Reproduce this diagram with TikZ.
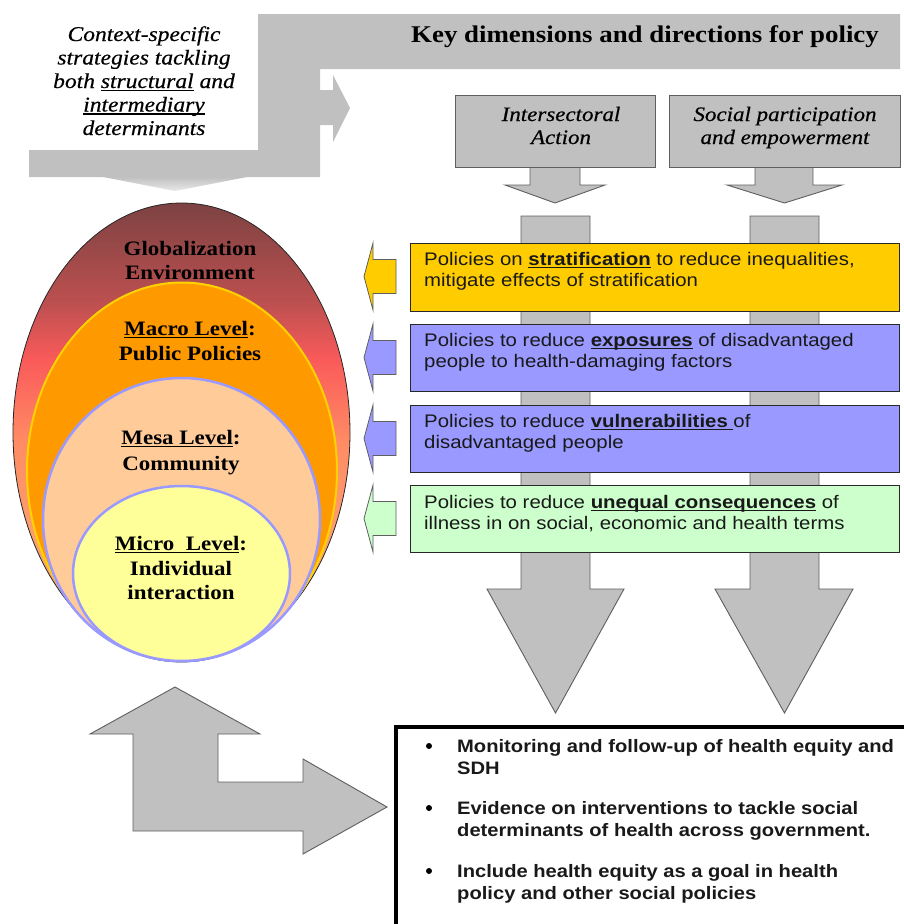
\documentclass[tikz,border=0pt]{standalone}
\usepackage{fontspec}
\setmainfont{Liberation Serif}
\newfontfamily\serifW[FakeStretch=1.12]{Liberation Serif}
\newfontfamily\serifI[FakeStretch=1.12, ItalicFeatures={FakeBold=0.5}]{Liberation Serif}
\newfontfamily\sansW[FakeStretch=1.12]{Liberation Sans}
\usetikzlibrary{shapes.geometric}
\definecolor{gfill}{RGB}{192,192,192}
\definecolor{gline}{RGB}{95,95,95}
\definecolor{polyel}{RGB}{255,204,0}
\definecolor{polblue}{RGB}{153,153,255}
\definecolor{polgreen}{RGB}{204,255,204}
\definecolor{boxline}{RGB}{40,40,40}
\definecolor{ptext}{RGB}{25,25,25}
\definecolor{globtop}{RGB}{125,66,66}
\definecolor{globmid}{RGB}{190,80,80}
\definecolor{globred}{RGB}{250,90,90}
\definecolor{globlow}{RGB}{255,140,100}
\definecolor{globbot}{RGB}{250,170,115}
\definecolor{macro}{RGB}{255,153,0}
\definecolor{macroline}{RGB}{255,210,0}
\definecolor{mesa}{RGB}{255,204,153}
\definecolor{lav}{RGB}{153,153,255}
\definecolor{micro}{RGB}{255,255,153}
\pgfdeclareverticalshading{globsh}{100bp}{color(0bp)=(globbot); color(32bp)=(globbot); color(49bp)=(globlow); color(58bp)=(globred); color(64bp)=(globmid); color(75bp)=(globtop); color(100bp)=(globtop)}
\pgfdeclareverticalshading{fadesh}{100bp}{color(0bp)=(white); color(25bp)=(gfill!35); color(75bp)=(gfill); color(100bp)=(gfill)}
\newcommand\myul[1]{\setbox0=\hbox{#1}\rlap{\rule[-0.16em]{\wd0}{0.08em}}\box0\relax}
\newcommand\polarrow[3]{%
  \draw[smallarrow, fill=#1] (396,{(#2+#3)/2-17}) -- (373,{(#2+#3)/2-17}) -- (373,#2)
    -- (364,{(#2+#3)/2}) -- (373,#3) -- (373,{(#2+#3)/2+17}) -- (396,{(#2+#3)/2+17}) -- cycle;}
\begin{document}
\begin{tikzpicture}[x=1pt,y=-1pt,
  grayshape/.style={fill=gfill, draw=gline, line width=0.9pt, line join=miter},
  smallarrow/.style={draw=gline, line width=0.8pt},
  graybox/.style={rectangle, fill=gfill, draw=gline, line width=0.9pt, inner sep=0pt, anchor=north west},
  polbox/.style={rectangle, draw=boxline, line width=1.2pt, inner sep=0pt, anchor=north west, minimum width=489pt},
  ctxtext/.style={anchor=base, inner sep=0pt, font=\serifI\itshape\fontsize{21}{24}\selectfont},
  headtext/.style={anchor=base, inner sep=0pt, font=\serifW\bfseries\fontsize{24}{28}\selectfont},
  dimtext/.style={anchor=base, inner sep=0pt, font=\serifI\itshape\fontsize{20.5}{24}\selectfont},
  elltext/.style={anchor=base, inner sep=0pt, font=\serifW\bfseries\fontsize{20.5}{24}\selectfont},
  poltext/.style={anchor=base west, inner sep=0pt, text=ptext, font=\sansW\fontsize{18.2}{21}\selectfont},
  bottext/.style={anchor=base west, inner sep=0pt, text=ptext, font=\sansW\bfseries\fontsize{18}{21}\selectfont},
  bullet/.style={circle, fill=black, inner sep=0pt, minimum size=6pt}]
\useasboundingbox (0,0) rectangle (904,924);
\begin{scope}
\clip (0,0) rectangle (904,924);

% ---------- top-left bent arrow and header bar ----------
\fill[gfill] (258,14) -- (900,14) -- (900,69) -- (320,69) -- (320,90) -- (333,90) -- (333,75)
  -- (350,108) -- (333,142) -- (333,125) -- (320,125) -- (320,177) -- (29,177) -- (29,150)
  -- (258,150) -- cycle;
\shade[shading=fadesh] (103,177) -- (247,177) -- (175,191) -- cycle;
\node[headtext] (head) at (645,42) {Key dimensions and directions for policy};

\node[ctxtext] (c1) at (144,41) {Context-specific};
\node[ctxtext] (c2) at (144,64.5) {strategies tackling};
\node[ctxtext] (c3) at (144,88) {both \myul{structural} and};
\node[ctxtext] (c4) at (144,111.5) {\myul{intermediary}};
\node[ctxtext] (c5) at (144,135) {determinants};

% ---------- dimension boxes ----------
\draw[grayshape] (530,166) -- (580,166) -- (580,185) -- (605,185) -- (555,203) -- (505,185) -- (530,185) -- cycle;
\draw[grayshape] (755,166) -- (813,166) -- (813,185) -- (842,185) -- (784.5,203) -- (727,185) -- (755,185) -- cycle;
\node[graybox, minimum width=200pt, minimum height=72pt] (ia) at (455,95) {};
\node[graybox, minimum width=231pt, minimum height=72pt] (sp) at (669,95) {};
\node[dimtext] (ia1) at (561,121) {Intersectoral};
\node[dimtext] (ia2) at (561,144) {Action};
\node[dimtext] (sp1) at (785,121) {Social participation};
\node[dimtext] (sp2) at (785,144) {and empowerment};

% ---------- long vertical arrows ----------
\draw[grayshape] (521,216) -- (590,216) -- (590,589) -- (624,589) -- (555.5,713) -- (487,589) -- (521,589) -- cycle;
\draw[grayshape] (750,216) -- (819,216) -- (819,589) -- (853,589) -- (784.5,713) -- (715,589) -- (750,589) -- cycle;

% ---------- policy boxes ----------
\node[polbox, fill=polyel, minimum height=68pt] (p1) at (410,243) {};
\node[polbox, fill=polblue, minimum height=67pt] (p2) at (410,324) {};
\node[polbox, fill=polblue, minimum height=67pt] (p3) at (410,405) {};
\node[polbox, fill=polgreen, minimum height=67pt] (p4) at (410,485) {};

\node[poltext] (p1a) at (424,265.5) {Policies on \textbf{\myul{stratification}} to reduce inequalities,};
\node[poltext] (p1b) at (424,286.5) {mitigate effects of stratification};
\node[poltext] (p2a) at (424,346.5) {Policies to reduce \textbf{\myul{exposures}} of disadvantaged};
\node[poltext] (p2b) at (424,367.5) {people to health-damaging factors};
\node[poltext] (p3a) at (424,427.5) {Policies to reduce \textbf{\myul{vulnerabilities\ }}of};
\node[poltext] (p3b) at (424,448.5) {disadvantaged people};
\node[poltext] (p4a) at (424,508.5) {Policies to reduce \textbf{\myul{unequal consequences}} of};
\node[poltext] (p4b) at (424,529.5) {illness in on social, economic and health terms};

\polarrow{polyel}{243}{310}
\polarrow{polblue}{324}{391}
\polarrow{polblue}{405}{472}
\polarrow{polgreen}{485}{552}

% ---------- nested ellipses ----------
\path[shading=globsh, draw=black!85, line width=0.8pt] (181.5,432.5) ellipse [x radius=168.5, y radius=229.5];
\path[fill=macro, draw=macroline, line width=2pt] (182,471) ellipse [x radius=155, y radius=188.5];
\path[fill=mesa, draw=lav, line width=2.5pt] (181.5,519.5) ellipse [x radius=138.5, y radius=141.5];
\path[fill=micro, draw=lav, line width=2.5pt] (181.5,573.5) ellipse [x radius=108.5, y radius=87.5];

\node[elltext] (g1) at (190,255) {Globalization};
\node[elltext] (g2) at (190,279) {Environment};
\node[elltext] (m1) at (190,335) {\myul{Macro Level}:};
\node[elltext] (m2) at (190,360) {Public Policies};
\node[elltext] (s1) at (181,444) {\myul{Mesa Level}:};
\node[elltext] (s2) at (181,470) {Community};
\node[elltext] (u1) at (181,550) {\myul{Micro\ \ Level}:};
\node[elltext] (u2) at (181,575) {Individual};
\node[elltext] (u3) at (181,599) {interaction};

% ---------- bottom bent arrow ----------
\draw[grayshape] (175,687) -- (260,734) -- (218,734) -- (218,782) -- (303,782) -- (303,759)
  -- (387,807) -- (303,854) -- (303,831) -- (133,831) -- (133,734) -- (90,734) -- cycle;

% ---------- bottom box ----------
\draw[line width=4pt] (396,727) rectangle (930,950);
\node[bullet] (d1) at (429,746) {};
\node[bullet] (d2) at (429,808) {};
\node[bullet] (d3) at (429,871) {};
\node[bottext] (t1a) at (457,752.5) {Monitoring and follow-up of health equity and};
\node[bottext] (t1b) at (457,774.5) {SDH};
\node[bottext] (t2a) at (457,814.5) {Evidence on interventions to tackle social};
\node[bottext] (t2b) at (457,836.5) {determinants of health across government.};
\node[bottext] (t3a) at (457,877.5) {Include health equity as a goal in health};
\node[bottext] (t3b) at (457,899.5) {policy and other social policies};
\end{scope}
\end{tikzpicture}
\end{document}
